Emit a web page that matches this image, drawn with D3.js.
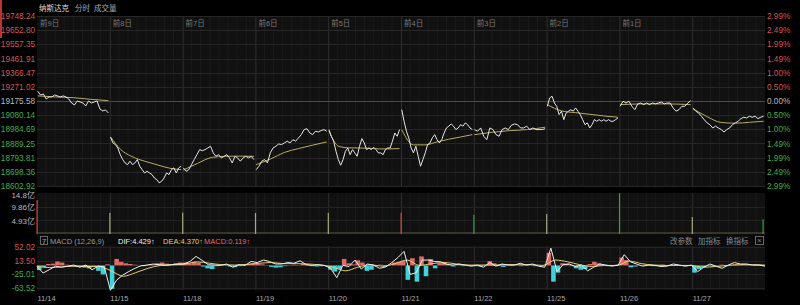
<!DOCTYPE html>
<html>
<head>
<meta charset="utf-8">
<title>纳斯达克 分时</title>
</head>
<body>
<svg id="svg" width="800" height="305"></svg>
<script src="https://d3js.org/d3.v7.min.js"></script>
<script>
// axis labels
const priceTicks = [19748.24, 19652.80, 19557.35, 19461.91, 19366.47, 19271.02, 19175.58,
  19080.14, 18984.69, 18889.25, 18793.81, 18698.36, 18602.92]
const pctTicks = ['2.99%', '2.49%', '1.99%', '1.49%', '1.00%', '0.50%', '0.00%',
  '0.50%', '1.00%', '1.49%', '1.99%', '2.49%', '2.99%']
const basePrice = 19175.58
const dayLabels = ['前9日', '前8日', '前7日', '前6日', '前5日', '前4日', '前3日', '前2日', '前1日']
const dates = ['11/14', '11/15', '11/18', '11/19', '11/20', '11/21', '11/22', '11/25', '11/26', '11/27']
const volTicks = [14.8, 9.86, 4.93]
const macdTicks = [52.02, 13.50, -25.01, -63.52]

// intraday price, one array per day (sampled evenly through the session)
const day1 = [19241, 19216, 19223, 19189, 19203, 19203, 19216, 19210, 19203, 19210, 19203, 19189, 19162,
  19149, 19176, 19169, 19162, 19142, 19176, 19162, 19169, 19176, 19122, 19109, 19115, 19095]
const day2 = [18931, 18893, 18882, 18859, 18814, 18781, 18758, 18747, 18770, 18747, 18758, 18781, 18736,
  18713, 18691, 18702, 18691, 18680, 18657, 18646, 18624, 18635, 18657, 18691, 18680, 18713, 18725, 18691, 18725, 18736]
const day3 = [18725, 18702, 18713, 18747, 18781, 18814, 18848, 18841, 18848, 18859, 18871, 18826, 18803,
  18814, 18792, 18803, 18814, 18792, 18758, 18803, 18792, 18770, 18792, 18803, 18792, 18803, 18781]
const day4 = [18713, 18736, 18770, 18781, 18758, 18826, 18859, 18871, 18886, 18882, 18893, 18905, 18893,
  18915, 18905, 18927, 18949, 18983, 18989, 18960, 18949, 18972, 18967, 18976, 18983, 18972]
const day5 = [18983, 18938, 18905, 18837, 18781, 18743, 18781, 18837, 18859, 18814, 18848, 18826, 18803,
  18871, 18922, 18893, 18848, 18859, 18848, 18864, 18848, 18826, 18826, 18814, 18848, 18859, 18859, 18905, 18960, 18938, 18983]
const day6 = [19117, 19039, 18972, 18927, 18859, 18826, 18871, 18803, 18736, 18781, 18826, 18882, 18893,
  18927, 18949, 18915, 18893, 18915, 18960, 18994, 19006, 19021, 19006, 18983, 18994, 19016, 19006, 19028, 19016, 18994, 18983]
const day7 = [18983, 18972, 18994, 18938, 18915, 18994, 18983, 18949, 18938, 18983, 18994, 18983, 19012,
  19021, 19016, 18994, 18994, 19006, 18983, 18994, 18983, 18983, 18983, 18989]
const day8 = [19140, 19196, 19208, 19162, 19140, 19084, 19107, 19050, 19095, 19107, 19117, 19107, 19129,
  19107, 19084, 19050, 19016, 19028, 18994, 19016, 19050, 19039, 19050, 19039, 19050, 19039, 19050, 19039, 19039, 19050, 19061]
const day9 = [19140, 19174, 19162, 19174, 19140, 19117, 19156, 19162, 19151, 19162, 19151, 19162, 19156,
  19162, 19169, 19156, 19162, 19162, 19129, 19107, 19117, 19140, 19140, 19162, 19178]
const day10 = [19129, 19107, 19095, 19073, 19050, 19028, 19016, 18994, 19006, 18994, 18983, 18967, 18983,
  18994, 19016, 19028, 19039, 19057, 19066, 19061, 19073, 19066, 19073, 19057, 19066, 19073]
const priceDays = [day1, day2, day3, day4, day5, day6, day7, day8, day9, day10]

// average price line per day
const avgDays = [
  [19210, 19203, 19198, 19187, 19178],
  [18934, 18849, 18805, 18778, 18758, 18738, 18721, 18713],
  [18711, 18755, 18795, 18803, 18804, 18803],
  [18747, 18784, 18829, 18855, 18878, 18900],
  [18974, 18869, 18860, 18859, 18857, 18853, 18853, 18855],
  [18983, 18880, 18880, 18900, 18918, 18933, 18949],
  [18949, 18965, 18976, 18983, 18999],
  [19151, 19109, 19097, 19086, 19075, 19066],
  [19151, 19156, 19156, 19151],
  [19124, 19070, 19031, 19026, 19032, 19039]
]

// volume spikes (亿) at each session boundary
const volSpikes = [12.3, 7.6, 7.7, 7.6, 7.6, 7.7, 6.9, 7.2, 14.7, 6.1, 5.3]
const volDir = ['up', 'flat', 'flat', 'flat', 'flat', 'up', 'down', 'flat', 'down', 'flat', 'down']

// MACD series across all ten sessions
const dif = [
  -3, -21, -12, -2, -5, -2, 1, -5, 1, -12, -2, -4,
  -69, -41, -27, -17, -8, -1, 1, 4, 2, 0, 2, 4,
  4, 11, 25, 14, 2, 1, 0, 4, -5, 2, 0, 11,
  8, 15, 11, 4, 4, 8, 6, 13, 2, 0, 2, 0,
  -8, -34, 0, -3, 15, -10, 4, 1, -8, -4, 8, 22,
  39, -25, -20, 15, 15, 11, 10, 3, 1, 4, 1, -2,
  1, -5, 8, -2, 4, 1, 1, 6, 1, 4, -2, -5,
  48, -17, 2, 4, -3, 1, -15, -5, 4, 1, -2, 1,
  30, 10, 4, -2, 1, 0, -3, -2, 4, 1, -2, 1,
  -17, -5, 4, -2, -8, 1, 8, 4, 4, 1, 1, -2
]
const dea = [
  -2, -6, -4, -2, -3, -3,
  -15, -30, -20, -8, 0, 2,
  4, 10, 6, 2, 1, 3,
  6, 8, 5, 5, 4, 1,
  -5, -15, -5, 2, -2, 5,
  15, 0, 5, 8, 4, 1,
  1, 1, 2, 2, 2, 0,
  15, 10, 2, -3, 0, 0,
  12, 5, 1, 0, 0, 0,
  -5, -3, 0, 2, 2, 1
]
const hist = [
  -13, -5, 4, 5, 11, 8, 2, -2, -3, -4, -6, -8, -3, -15, -25, 3,
  -65, 18, 10, 6, 4, 2, 1, -2, 2, 3, 6, 8, 5, 2, 6, 8,
  8, 6, 10, 8, -3, -8, -10, -2, 2, 1, -3, -5, -2, 1, 4, 6,
  4, 3, 1, -4, -6, -5, -2, 1, 2, 1, 4, 3, -2, -3, -2, -1,
  -12, -17, -10, 18, 6, 3, 14, 8, -15, -12, -2, 2, -4, 1, 8, 10,
  12, -40, 20, -45, 25, -30, 18, -8, 6, 8, 2, -3, 2, -2, 1, -2,
  -2, -3, 2, 12, 6, -2, -4, -1, 2, 1, -2, 3, 1, -2, 1, -1,
  35, -45, -20, 6, 5, -2, -8, -12, -10, 4, 10, 6, 1, -2, 1, 2,
  22, 15, -5, -3, 1, 2, -1, -2, 1, 2, -1, -1, 2, 1, -2, 1,
  -20, -10, -5, -2, -3, 1, 2, -2, 1, 3, 2, 1, -1, 1, 2, 1
]

const RED = '#d65454'
const GREEN = '#3fae4a'
const FONT = '"Liberation Sans", "Noto Sans CJK SC", sans-serif'
const svg = d3.select('#svg')

svg.append('rect').attr('width', 800).attr('height', 305).attr('fill', '#000')

const x = d3.scaleLinear().domain([0, 10]).range([37, 765])
const y = d3.scaleLinear().domain([18602.92, 19748.24]).range([186, 16])
const yv = d3.scaleLinear().domain([0, 14.8]).range([234, 193])
const ym = d3.scaleLinear().domain([-63.52, 52.02]).range([288.3, 246.7])

// panels
const panels = [[16, 186], [193, 234], [246, 290]]
panels.forEach(([t, b]) => {
  svg.append('rect').attr('x', 37).attr('y', t).attr('width', 728).attr('height', b - t).attr('fill', '#111')
})
svg.append('rect').attr('x', 37).attr('y', 234).attr('width', 728).attr('height', 12).attr('fill', '#0b0b0b')
svg.append('rect').attr('x', 0).attr('y', 0).attr('width', 2).attr('height', 38).attr('fill', '#b33')

// vertical grid
const minor = d3.range(0, 80).filter(i => i % 8 !== 0).map(i => i / 8)
panels.forEach(([t, b]) => {
  svg.append('g').selectAll('line').data(minor).join('line')
    .attr('x1', d => x(d)).attr('x2', d => x(d)).attr('y1', t).attr('y2', b)
    .attr('stroke', '#1a1a1a').attr('stroke-width', 1)
  svg.append('g').selectAll('line').data(d3.range(1, 10)).join('line')
    .attr('x1', d => x(d) + 0.5).attr('x2', d => x(d) + 0.5).attr('y1', t).attr('y2', b)
    .attr('stroke', '#2f2f2f').attr('stroke-width', 1)
})

// horizontal grid
svg.append('g').selectAll('line').data(priceTicks).join('line')
  .attr('x1', 37).attr('x2', 765)
  .attr('y1', d => Math.round(y(d)) + 0.5).attr('y2', d => Math.round(y(d)) + 0.5)
  .attr('stroke', d => d === basePrice ? '#4a4a4a' : '#262626')
svg.append('g').selectAll('line').data(volTicks.slice(1)).join('line')
  .attr('x1', 37).attr('x2', 765)
  .attr('y1', d => Math.round(yv(d)) + 0.5).attr('y2', d => Math.round(yv(d)) + 0.5)
  .attr('stroke', '#222')
svg.append('g').selectAll('line').data(macdTicks).join('line')
  .attr('x1', 37).attr('x2', 765)
  .attr('y1', d => Math.round(ym(d)) + 0.5).attr('y2', d => Math.round(ym(d)) + 0.5)
  .attr('stroke', '#222')

// price axis labels
const priceColor = d => d > basePrice ? RED : d < basePrice ? GREEN : '#bbb'
const lastIdx = priceTicks.length - 1
svg.append('g').selectAll('text').data(priceTicks).join('text')
  .attr('x', 35).attr('y', (d, i) => y(d) + (i === lastIdx ? 2.5 : 3)).attr('text-anchor', 'end')
  .attr('font-family', FONT).attr('font-size', 8.2).attr('fill', priceColor)
  .text(d => d.toFixed(2))
svg.append('g').selectAll('text').data(pctTicks).join('text')
  .attr('x', 767).attr('y', (d, i) => y(priceTicks[i]) + (i === lastIdx ? 2.5 : 3))
  .attr('font-family', FONT).attr('font-size', 8.2).attr('fill', (d, i) => priceColor(priceTicks[i]))
  .text(d => d)

// day labels
svg.append('g').selectAll('text').data(dayLabels).join('text')
  .attr('x', (d, i) => x(i) + 3).attr('y', 26)
  .attr('font-family', FONT).attr('font-size', 7.5).attr('fill', '#777')
  .text(d => d)

// header
const header = [['纳斯达克', 39, '#ddd'], ['分时', 75, '#aaa'], ['成交量', 94, '#aaa']]
svg.append('g').selectAll('text').data(header).join('text')
  .attr('x', d => d[1]).attr('y', 11)
  .attr('font-family', FONT).attr('font-size', 7.5).attr('fill', d => d[2])
  .text(d => d[0])

// price and average lines
const xIn = (d, i, n) => x(d + 0.01 + 0.97 * i / (n - 1))
priceDays.forEach((vals, d) => {
  const avg = avgDays[d]
  svg.append('path')
    .attr('d', d3.line().x((v, i) => xIn(d, i, avg.length)).y(v => y(v)).curve(d3.curveMonotoneX)(avg))
    .attr('fill', 'none').attr('stroke', '#b5ad5c').attr('stroke-width', 1)
  svg.append('path')
    .attr('d', d3.line().x((v, i) => xIn(d, i, vals.length)).y(v => y(v))(vals))
    .attr('fill', 'none').attr('stroke', '#e6e6e6').attr('stroke-width', 1)
})

// volume
svg.append('line').attr('x1', 37).attr('x2', 765).attr('y1', 233).attr('y2', 233)
  .attr('stroke', '#5a5a40').attr('stroke-width', 1)
const volColor = { up: '#c85050', down: '#3a9a4a', flat: '#a8a880' }
svg.append('g').selectAll('rect').data(volSpikes).join('rect')
  .attr('x', (d, i) => Math.min(x(i), 763) - 0.5).attr('width', 1.2)
  .attr('y', d => yv(d)).attr('height', d => yv(0) - yv(d))
  .attr('fill', (d, i) => volColor[volDir[i]])
svg.append('g').selectAll('text').data(volTicks).join('text')
  .attr('x', 35).attr('y', (d, i) => yv(d) + (i === 0 ? 4.5 : 3.5)).attr('text-anchor', 'end')
  .attr('font-family', FONT).attr('font-size', 8).attr('fill', '#bbb')
  .text(d => d + '亿')

// MACD
const step = 728 / hist.length
svg.append('g').selectAll('rect').data(hist).join('rect')
  .attr('x', (d, i) => 37 + i * step).attr('width', step)
  .attr('y', d => Math.min(ym(d), ym(0))).attr('height', d => Math.abs(ym(d) - ym(0)))
  .attr('fill', d => d >= 0 ? '#e06a6a' : '#3fd2d8')
const xs = arr => (v, i) => 37 + 728 * i / (arr.length - 1)
svg.append('path').attr('d', d3.line().x(xs(dea)).y(v => ym(v)).curve(d3.curveMonotoneX)(dea))
  .attr('fill', 'none').attr('stroke', '#e3cf6c').attr('stroke-width', 1)
svg.append('path').attr('d', d3.line().x(xs(dif)).y(v => ym(v))(dif))
  .attr('fill', 'none').attr('stroke', '#eee').attr('stroke-width', 1)

svg.append('g').selectAll('text').data(macdTicks).join('text')
  .attr('x', 35).attr('y', d => ym(d) + 3).attr('text-anchor', 'end')
  .attr('font-family', FONT).attr('font-size', 8.2).attr('fill', d => d > 0 ? RED : GREEN)
  .text(d => d.toFixed(2))

// MACD header
svg.append('rect').attr('x', 40.5).attr('y', 236.5).attr('width', 7).attr('height', 8)
  .attr('fill', 'none').attr('stroke', '#666')
const mHead = [['7', 42, '#aaa'], ['MACD (12,26,9)', 50, '#999'], ['DIF:4.429↑', 118, '#eee'],
  ['DEA:4.370↑', 163, '#e3cf6c'], ['MACD:0.119↑', 204, '#e06a6a'],
  ['改参数', 670, '#888'], ['加指标', 698, '#888'], ['换指标', 726, '#888']]
svg.append('g').selectAll('text').data(mHead).join('text')
  .attr('x', d => d[1]).attr('y', 243.5)
  .attr('font-family', FONT).attr('font-size', 7.5).attr('fill', d => d[2])
  .text(d => d[0])
svg.append('rect').attr('x', 755.5).attr('y', 236.5).attr('width', 8).attr('height', 8)
  .attr('fill', 'none').attr('stroke', '#666')
svg.append('text').attr('x', 759.5).attr('y', 243).attr('text-anchor', 'middle')
  .attr('font-family', FONT).attr('font-size', 7.5).attr('fill', '#888').text('×')

// dates
svg.append('g').selectAll('text').data(dates).join('text')
  .attr('x', (d, i) => x(i) + 0.5).attr('y', 300.5)
  .attr('font-family', FONT).attr('font-size', 7.5).attr('fill', '#aaa')
  .text(d => d)
</script>
</body>
<style>
  body, html { margin: 0; padding: 0; background: #000; }
  svg { display: block; }
</style>
</html>
